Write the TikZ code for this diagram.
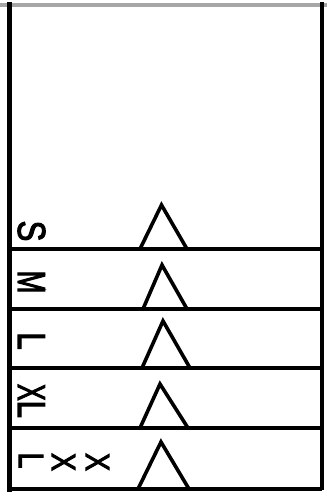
\documentclass[tikz,border=0pt]{standalone}
\usepackage{fontspec}
\setmainfont{Liberation Sans}
\newfontfamily\lblfont{Liberation Sans}[FakeBold=3]
\begin{document}
\begin{tikzpicture}[x=1pt,y=-1pt,
  frame/.style={line width=4.5pt, black},
  divider/.style={line width=4pt, black},
  tri/.style={line width=3.6pt, black, line join=miter},
  lbl/.style={inner sep=0pt, rotate=-90, font=\lblfont\fontsize{39}{39}\selectfont},
  lblsmall/.style={inner sep=0pt, rotate=-90, font=\lblfont\fontsize{35}{35}\selectfont},
  lblx/.style={inner sep=0pt, rotate=-90, font=\lblfont\fontsize{34}{34}\selectfont}]
\useasboundingbox (0,0) rectangle (327,496);
% top gray edge
\draw[gray!70, line width=4pt] (0,5) -- (327,5);
% frame
\coordinate (tl) at (9.5,2);
\coordinate (bl) at (9.5,491.5);
\coordinate (tr) at (322,2);
\coordinate (br) at (322,489.5);
\draw[frame] (tl) -- (bl);
\draw[frame] (tr) -- (br);
% dividers
\foreach \y [count=\i] in {249,309,368,428,489}{
  \coordinate (dl\i) at (9.5,\y);
  \coordinate (dr\i) at (322,\y);
  \draw[divider] (dl\i) -- (dr\i);
}
% triangles
\draw[tri] (140,249) -- (161.5,205) -- (187,249);
\draw[tri] (143,309) -- (162,265) -- (187,309);
\draw[tri] (142,368) -- (163,321) -- (190,368);
\draw[tri] (140,428) -- (160,384) -- (188,428);
\draw[tri] (138,489) -- (161,442) -- (189,489);
% labels
\node[lbl] (s) at (31.5,231) {\scalebox{0.8}[1]{S}};
\node[lbl] (m) at (31.5,282) {\scalebox{0.7}[1]{M}};
\node[lbl] (l) at (31.5,341) {\scalebox{0.8}[1]{L}};
\node[lbl] (xl) at (31.5,401) {\scalebox{0.64}[1]{X}\scalebox{0.8}[1]{L}};
\node[lblsmall] (xxla) at (31,460.5) {\scalebox{0.82}[1]{L}};
\node[lblx] (xxlb) at (63.5,462) {\scalebox{0.8}[1]{X}};
\node[lblx] (xxlc) at (97.5,462) {\scalebox{0.8}[1]{X}};
\end{tikzpicture}
\end{document}
